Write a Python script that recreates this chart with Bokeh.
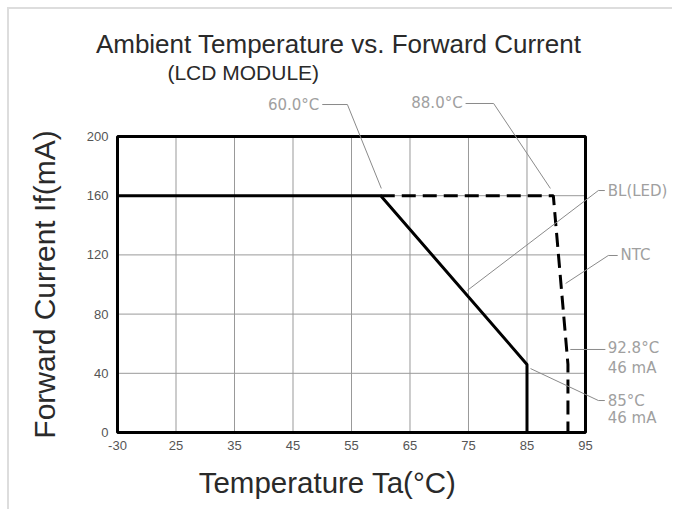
from bokeh.plotting import figure
from bokeh.models import Range1d, FixedTicker, Label, LinearAxis
from bokeh.embed import file_html
from bokeh.resources import INLINE

# ---- data ----
x_ticks = [15, 25, 35, 45, 55, 65, 75, 85, 95]
x_tick_labels = ["-30", "25", "35", "45", "55", "65", "75", "85", "95"]
y_ticks = [0, 40, 80, 120, 160, 200]

bl_temp = [15, 60.0, 85.0, 85.0]
bl_current = [160, 160, 46, 0]
ntc_temp = [60.0, 89.5, 92.0, 92.0]
ntc_current = [160, 160, 46, 0]

note_texts = ["60.0°C", "88.0°C", "BL(LED)", "NTC", "92.8°C", "46  mA", "85°C", "46  mA"]

# ---- layout of annotations (data units) ----
note_x = [49.5, 74.0, 98.8, 101.0, 98.8, 98.8, 98.8, 98.8]
note_y = [221.6, 222.3, 163.5, 119.6, 56.8, 43.9, 21.6, 9.5]
note_align = ["right", "right", "left", "left", "left", "left", "left", "left"]

lead_x0 = [50.0, 54.3, 74.5, 79.3, 98.3, 97.2, 100.5, 98.9, 98.4, 98.3, 97.2]
lead_y0 = [221.6, 221.6, 222.3, 222.3, 163.5, 163.5, 119.6, 119.6, 56.1, 21.6, 21.6]
lead_x1 = [54.3, 60.1, 79.3, 89.0, 97.2, 74.8, 98.9, 91.6, 92.4, 97.2, 85.6]
lead_y1 = [221.6, 164.9, 222.3, 164.9, 163.5, 96.0, 119.6, 100.7, 56.1, 21.6, 43.2]

FONT = "Liberation Sans"

p = figure(width=665, height=502, x_range=Range1d(-3.462, 110.214),
           y_range=Range1d(-53.38, 285.81),
           output_backend="svg", toolbar_location=None, x_axis_location=None,
           y_axis_location=None,
           min_border_left=0, min_border_right=0, min_border_top=0, min_border_bottom=0)
p.styles = {"margin-left": "7px", "margin-top": "7px",
            "border-left": "2px solid #dddddd", "border-top": "2px solid #dddddd"}
p.background_fill_color = "white"
p.border_fill_color = "white"
p.outline_line_color = None
p.xgrid.visible = False
p.ygrid.visible = False

# axes fixed at the chart box
xax = LinearAxis(ticker=FixedTicker(ticks=x_ticks), fixed_location=y_ticks[0],
                 bounds=(x_ticks[0], x_ticks[-1]))
xax.major_label_overrides = {t: l for t, l in zip(x_ticks, x_tick_labels)}
yax = LinearAxis(ticker=FixedTicker(ticks=y_ticks), fixed_location=x_ticks[0],
                 bounds=(y_ticks[0], y_ticks[-1]))
for ax in (xax, yax):
    ax.axis_line_color = None
    ax.major_tick_line_color = None
    ax.minor_tick_line_color = None
    ax.major_tick_out = 0
    ax.major_tick_in = 0
    ax.major_label_standoff = 9
    ax.major_label_text_font = FONT
    ax.major_label_text_font_size = "13px"
    ax.major_label_text_color = "#555555"
yax.axis_label = "Forward Current If(mA)"
yax.axis_label_text_font = FONT
yax.axis_label_text_font_size = "30px"
yax.axis_label_text_font_style = "normal"
yax.axis_label_text_color = "#2a2a2a"
yax.axis_label_standoff = 23
p.add_layout(xax, "below")
p.add_layout(yax, "left")

# grid lines
nx, ny = len(x_ticks), len(y_ticks)
p.segment(x0=x_ticks, y0=[y_ticks[0]] * nx, x1=x_ticks, y1=[y_ticks[-1]] * nx,
          line_color="#999999", line_width=1)
p.segment(x0=[x_ticks[0]] * ny, y0=y_ticks, x1=[x_ticks[-1]] * ny, y1=y_ticks,
          line_color="#999999", line_width=1)

# curves
p.line(bl_temp, bl_current, line_color="black", line_width=3)
p.line(ntc_temp, ntc_current, line_color="black", line_width=3, line_dash="14 7")

# chart box
p.quad(left=[x_ticks[0]], right=[x_ticks[-1]], bottom=[y_ticks[0]], top=[y_ticks[-1]],
       fill_color=None, line_color="black", line_width=3)

# leader lines
p.segment(x0=lead_x0, y0=lead_y0, x1=lead_x1, y1=lead_y1, line_color="#8a8a8a", line_width=1)

# note texts
for t, x, y, a in zip(note_texts, note_x, note_y, note_align):
    p.add_layout(Label(x=x, y=y, text=t, text_align=a, text_baseline="middle",
                       text_font="DejaVu Sans", text_font_size="15px", text_color="#a0a0a0"))

# titles
p.add_layout(Label(x=52.8, y=262.8, text="Ambient Temperature vs. Forward Current",
                   text_align="center", text_baseline="middle", text_font=FONT,
                   text_font_size="26px", text_color="#2a2a2a"))
p.add_layout(Label(x=36.5, y=243.2, text="(LCD MODULE)",
                   text_align="center", text_baseline="middle", text_font=FONT,
                   text_font_size="21px", text_color="#2a2a2a"))
p.add_layout(Label(x=50.9, y=-33.8, text="Temperature Ta(°C)",
                   text_align="center", text_baseline="middle", text_font=FONT,
                   text_font_size="29.5px", text_color="#2a2a2a"))

open("out.html", "w").write(file_html(p, INLINE))
